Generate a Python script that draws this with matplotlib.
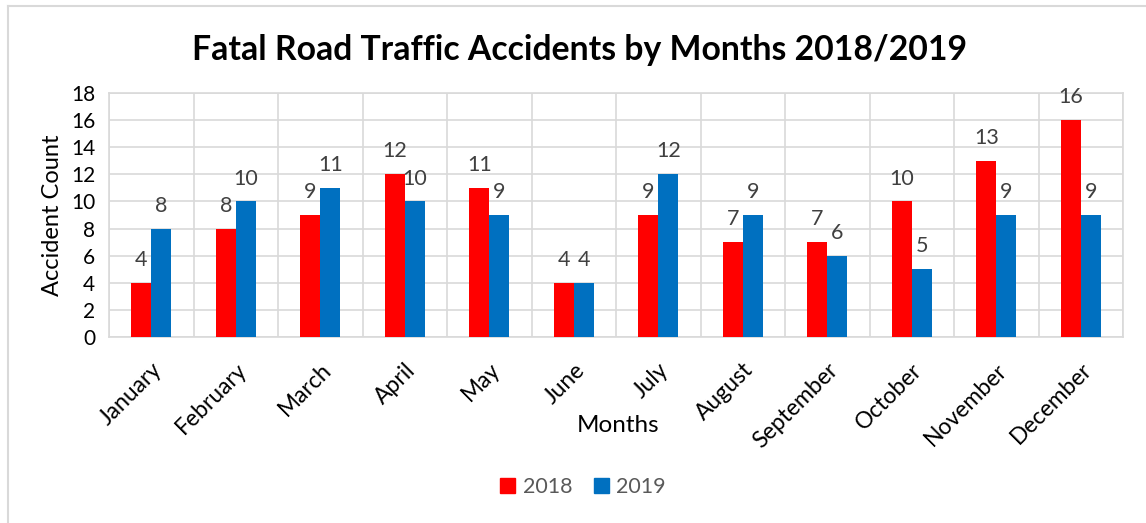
import matplotlib
matplotlib.use("Agg")
import matplotlib.pyplot as plt
import numpy as np
from matplotlib.lines import Line2D
from matplotlib.patches import Patch

months = ["January", "February", "March", "April", "May", "June", "July",
          "August", "September", "October", "November", "December"]
y2018 = [4, 8, 9, 12, 11, 4, 9, 7, 7, 10, 13, 16]
y2019 = [8, 10, 11, 10, 9, 4, 12, 9, 6, 5, 9, 9]
yticks = [0, 2, 4, 6, 8, 10, 12, 14, 16, 18]

plt.rcParams['font.family'] = ['Lato', 'DejaVu Sans']

W, H = 1146, 523
fig = plt.figure(figsize=(W / 100, H / 100), dpi=100)

def px(x0, y0, x1, y1):
    return [x0 / W, 1 - y1 / H, (x1 - x0) / W, (y1 - y0) / H]

ax = fig.add_axes(px(109, 93, 1123, 337))

red = '#ff0000'
blue = '#0070c0'
grid = '#d9d9d9'
label_col = '#404040'

x = np.arange(len(months))
bw = 0.237
b1 = ax.bar(x - bw / 2, y2018, bw, color=red, label='2018', zorder=3)
b2 = ax.bar(x + bw / 2, y2019, bw, color=blue, label='2019', zorder=3)

for bars, vals in ((b1, y2018), (b2, y2019)):
    for r, v in zip(bars, vals):
        ax.annotate(str(v), (r.get_x() + r.get_width() / 2, v),
                    xytext=(0, 16.5), textcoords='offset points',
                    ha='center', va='center', fontsize=15.5, color=label_col)

ax.set_xlim(-0.5, len(months) - 0.5)
ax.set_ylim(0, 18)
ax.set_yticks(yticks)
ax.set_yticklabels([str(t) for t in yticks], fontsize=15, color='black')
ax.set_xticks(x)
ax.set_xticklabels(months, rotation=45, ha='right', va='top',
                   rotation_mode='anchor', fontsize=16.5, color='black')
ax.tick_params(axis='both', length=0)
ax.tick_params(axis='y', pad=10)
ax.tick_params(axis='x', pad=16)

for yv in yticks:
    ax.axhline(yv, color=grid, lw=1.2, zorder=1)
for xv in np.arange(-0.5, len(months), 1.0):
    ax.axvline(xv, color=grid, lw=1.2, zorder=1)
for s in ax.spines.values():
    s.set_color(grid)
    s.set_linewidth(1.2)

ax.set_ylabel('Accident Count', fontsize=17, labelpad=6)
fig.text(618 / W, 1 - 426 / H, 'Months', fontsize=17.5, ha='center', va='center')

fig.text(580 / W, 1 - 50 / H, 'Fatal Road Traffic Accidents by Months 2018/2019',
         fontsize=24.3, fontweight='bold', ha='center', va='center')

handles = [Patch(color=red), Patch(color=blue)]
leg = fig.legend(handles, ['2018', '2019'], loc='center', bbox_to_anchor=(583 / W, 1 - 487 / H),
                 ncol=2, frameon=False, fontsize=15.5, handlelength=0.7, handleheight=0.7,
                 handletextpad=0.35, columnspacing=1.0)
for t in leg.get_texts():
    t.set_color('#595959')

# chart frame (left and top edges visible)
fig.add_artist(Line2D([8 / W, 8 / W], [0, 1 - 6 / H], transform=fig.transFigure, color=grid, lw=1.5))
fig.add_artist(Line2D([8 / W, 1], [1 - 6 / H, 1 - 6 / H], transform=fig.transFigure, color=grid, lw=1.5))

fig.savefig('out.png', dpi=100, facecolor='white')
